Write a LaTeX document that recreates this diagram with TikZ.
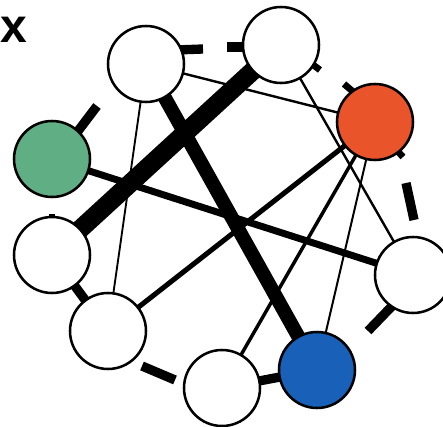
\documentclass[tikz,border=0pt]{standalone}
\usepackage{fontspec}
\setsansfont{Liberation Sans}
\usetikzlibrary{backgrounds}
\definecolor{hubred}{RGB}{234,84,42}
\definecolor{hubgreen}{RGB}{96,174,132}
\definecolor{hubblue}{RGB}{24,96,184}
\begin{document}
\begin{tikzpicture}[x=0.75pt,y=-0.75pt,
  vertex/.style={circle,draw=black,line width=1.9pt,minimum size=57pt,inner sep=0pt,fill=white},
  link/.style={draw=black,line cap=butt},
  ring/.style={draw=black,line width=7pt,line cap=butt},
  tick/.style={draw=black,line width=5pt,line cap=butt},
  panel/.style={font=\sffamily\bfseries\fontsize{36}{36}\selectfont,inner sep=0pt}]
\useasboundingbox (0,0) rectangle (443,427);

% panel letter
\node[panel] (lbl) at (14,30) {x};

% vertices of the ring
\node[vertex] (n1) at (146,64) {};
\node[vertex] (n2) at (281,45) {};
\node[vertex,fill=hubred] (n3) at (375,122) {};
\node[vertex,fill=hubgreen] (n4) at (52,159) {};
\node[vertex] (n5) at (52,255) {};
\node[vertex] (n6) at (108,331) {};
\node[vertex] (n7) at (222,388) {};
\node[vertex,fill=hubblue] (n8) at (317,370) {};
\node[vertex] (n9) at (413,275) {};

% pieces of the outer ring
\coordinate (a1) at (176,50);  \coordinate (a2) at (203,49);
\coordinate (b1) at (227,47);  \coordinate (b2) at (250,47);
\coordinate (c1) at (308,61);  \coordinate (c2) at (320,70);
\coordinate (d1) at (357,95);  \coordinate (d2) at (344,84);
\coordinate (e1) at (392,145); \coordinate (e2) at (403,157);
\coordinate (f1) at (406,183); \coordinate (f2) at (414,220);
\coordinate (g1) at (396,302); \coordinate (g2) at (368,331);
\coordinate (h1) at (142,366); \coordinate (h2) at (175,380);
\coordinate (i1) at (52,225);  \coordinate (i2) at (52,214);
\coordinate (j1) at (72,139);  \coordinate (j2) at (97,106);

\begin{scope}[on background layer]
  % links across the ring
  \draw[link,line width=14pt] (n5.center) -- (n2.center);
  \draw[link,line width=10.5pt] (n1.center) -- (n8.center);
  \draw[link,line width=5.2pt] (n4.center) -- (n9.center);
  \draw[link,line width=3.8pt] (n3.center) -- (n6.center);
  \draw[link,line width=2.6pt] (n3.center) -- (n7.center);
  \draw[link,line width=1.5pt] (n3.center) -- (n8.center);
  \draw[link,line width=1.8pt] (n2.center) -- (n9.center);
  \draw[link,line width=1.8pt] (n1.center) -- (n3.center);
  \draw[link,line width=1.4pt] (n1.center) -- (n6.center);
  % ring between neighbours
  \draw[ring] (n6.center) -- (n5.center);
  \draw[ring] (n8.center) -- (n7.center);
  \draw[ring] (a1) -- (a2);
  \draw[ring] (b1) -- (b2);
  \draw[tick] (c1) -- (c2);
  \draw[tick] (d1) -- (d2);
  \draw[tick] (e1) -- (e2);
  \draw[ring] (f1) -- (f2);
  \draw[ring] (g1) -- (g2);
  \draw[ring] (h1) -- (h2);
  \draw[tick] (i1) -- (i2);
  \draw[ring] (j1) -- (j2);
\end{scope}
\end{tikzpicture}
\end{document}
